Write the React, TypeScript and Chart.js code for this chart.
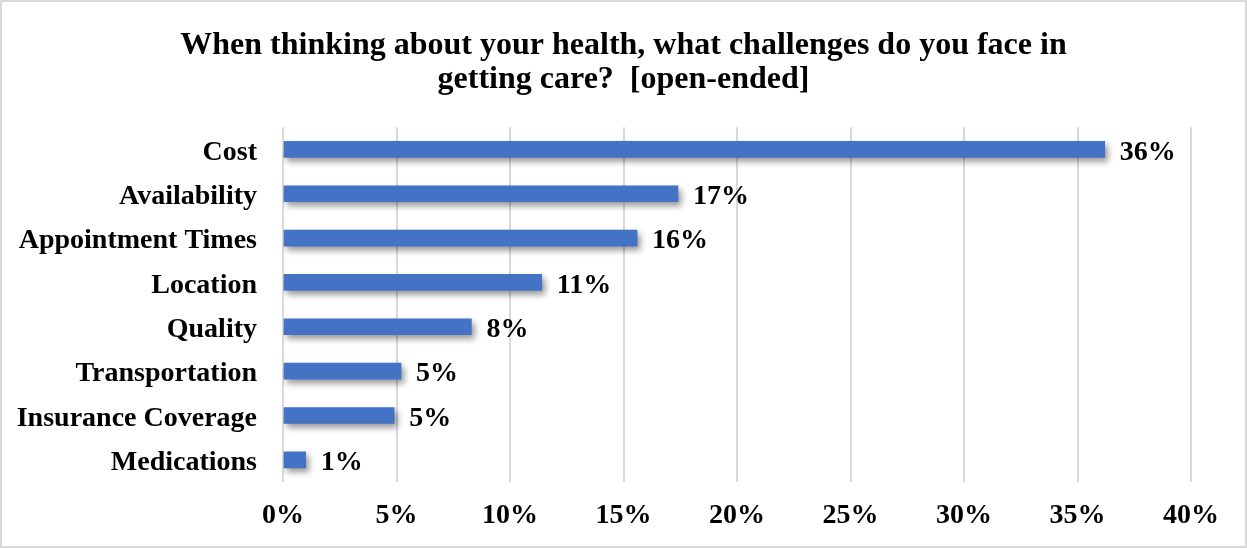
import React, { useEffect, useRef } from "react";
import { Chart, registerables } from "chart.js";

Chart.register(...registerables);

const titleLines = [
  "When thinking about your health, what challenges do you face in",
  "getting care?  [open-ended]",
];
const categories = [
  "Cost",
  "Availability",
  "Appointment Times",
  "Location",
  "Quality",
  "Transportation",
  "Insurance Coverage",
  "Medications",
];
const values = [36.2, 17.4, 15.6, 11.4, 8.3, 5.2, 4.9, 1.0];
const xTicks = [0, 5, 10, 15, 20, 25, 30, 35, 40];

const FONT = "'Times New Roman', 'Liberation Serif', serif";
const BAR_COLOR = "#4472C4";

const backgroundPlugin = {
  id: "bgBorder",
  beforeDraw(chart: any) {
    const { ctx, width, height } = chart;
    ctx.save();
    ctx.fillStyle = "#ffffff";
    ctx.fillRect(0, 0, width, height);
    ctx.strokeStyle = "#d9d9d9";
    ctx.lineWidth = 2;
    ctx.strokeRect(1, 1, width - 2, height - 2);
    ctx.restore();
  },
};

const shadowPlugin = {
  id: "barShadow",
  beforeDatasetsDraw(chart: any) {
    const ctx = chart.ctx;
    ctx.save();
    ctx.shadowColor = "rgba(0,0,0,0.4)";
    ctx.shadowBlur = 6;
    ctx.shadowOffsetX = 3;
    ctx.shadowOffsetY = 4;
  },
  afterDatasetsDraw(chart: any) {
    chart.ctx.restore();
  },
};

const labelPlugin = {
  id: "valueLabels",
  afterDraw(chart: any) {
    const ctx = chart.ctx;
    const meta = chart.getDatasetMeta(0);
    const data = chart.data.datasets[0].data as number[];
    ctx.save();
    ctx.font = `bold 28px ${FONT}`;
    ctx.fillStyle = "#000000";
    ctx.textAlign = "left";
    ctx.textBaseline = "middle";
    meta.data.forEach((bar: any, i: number) => {
      ctx.fillText(`${Math.round(data[i])}%`, bar.x + 15, bar.y + 3);
    });
    ctx.restore();
  },
};

export default function App() {
  const canvasRef = useRef<HTMLCanvasElement | null>(null);

  useEffect(() => {
    if (!canvasRef.current) return;
    const chart = new Chart(canvasRef.current, {
      type: "bar",
      data: {
        labels: categories,
        datasets: [
          {
            data: values,
            backgroundColor: BAR_COLOR,
            barThickness: 16,
          },
        ],
      },
      options: {
        indexAxis: "y",
        animation: false,
        responsive: true,
        maintainAspectRatio: false,
        layout: { padding: { left: 0, right: 0, top: 0, bottom: 0 } },
        plugins: {
          legend: { display: false },
          tooltip: { enabled: false },
          title: {
            display: true,
            text: titleLines,
            color: "#000000",
            font: { family: FONT, size: 32, weight: "bold", lineHeight: 1.05 },
            padding: { top: 29, bottom: 31 },
          },
        },
        scales: {
          x: {
            min: 0,
            max: 40,
            afterBuildTicks(scale: any) {
              scale.ticks = xTicks.map((v) => ({ value: v }));
            },
            afterFit(scale: any) {
              scale.height = 66;
              scale.paddingRight = 56;
            },
            ticks: {
              callback: (v: any) => `${v}%`,
              color: "#000000",
              font: { family: FONT, size: 28, weight: "bold" },
              padding: 17,
              maxRotation: 0,
            },
            grid: { color: "#d9d9d9", lineWidth: 2, drawTicks: false },
            border: { display: false },
          },
          y: {
            afterFit(scale: any) {
              scale.width = 283;
            },
            ticks: {
              color: "#000000",
              font: { family: FONT, size: 28, weight: "bold" },
              padding: 26,
              labelOffset: 3,
            },
            grid: { display: false, drawTicks: false },
            border: { display: false },
          },
        },
      },
      plugins: [backgroundPlugin, shadowPlugin, labelPlugin],
    });
    return () => chart.destroy();
  }, []);

  return (
    <div style={{ position: "absolute", left: 0, top: 0, width: 1247, height: 548 }}>
      <canvas ref={canvasRef} />
    </div>
  );
}
